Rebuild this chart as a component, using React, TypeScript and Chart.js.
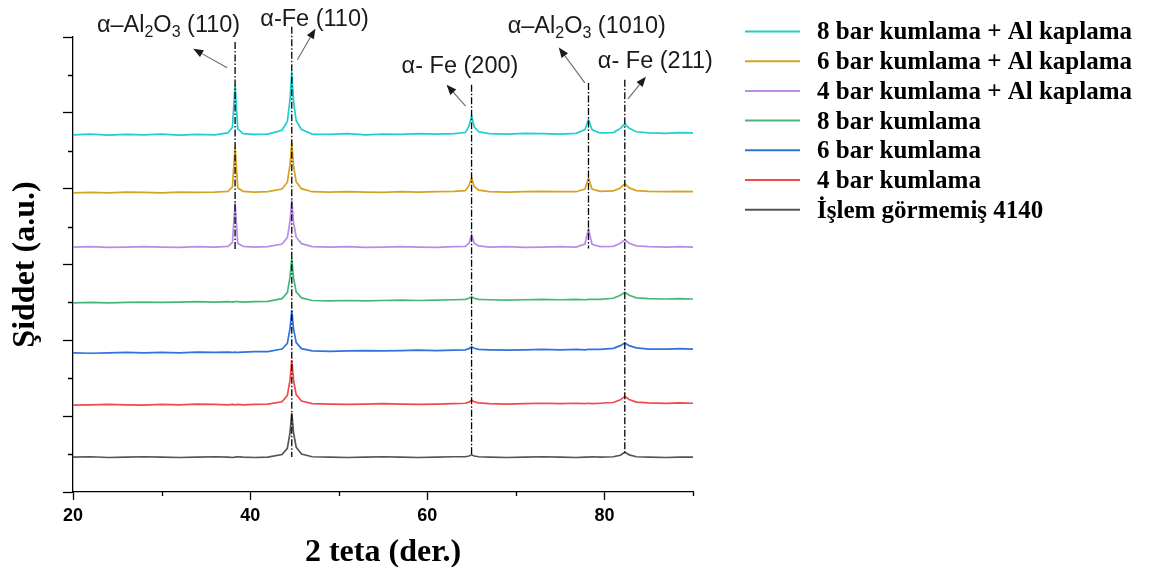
import React, { useEffect, useRef } from "react";
import { Chart, registerables } from "chart.js";

Chart.register(...registerables);

// ---------- DATA ----------
const twoTheta = [
  20, 22, 24, 26, 28, 30, 32, 34, 36, 37.5, 38.0, 38.3, 38.6, 39.2, 40.5, 42,
  43.6, 44.2, 44.5, 44.7, 44.9, 45.2, 45.8, 47, 49, 51, 53, 55, 57, 59, 61, 63,
  64.3, 64.7, 65.0, 65.3, 65.8, 67, 69, 71, 73, 75, 76.8, 77.8, 78.2, 78.6, 79.5,
  81.0, 81.8, 82.3, 82.8, 83.6, 85, 87, 88.5, 90,
];

const untreated4140 = [
  0.92, 0.93, 0.91, 0.92, 0.93, 0.92, 0.91, 0.92, 0.93, 0.92, 0.91, 0.92, 0.93, 0.92, 0.91, 0.92,
  0.99, 1.15, 1.56, 2.08, 1.56, 1.18, 1.00, 0.93, 0.92, 0.91, 0.92, 0.93, 0.92, 0.91, 0.92, 0.93,
  0.93, 0.95, 0.98, 0.95, 0.93, 0.92, 0.91, 0.92, 0.93, 0.92, 0.91, 0.92, 0.92, 0.93, 0.92,
  0.93, 0.97, 1.05, 0.98, 0.93, 0.92, 0.91, 0.92, 0.92,
];

const blast4 = [
  2.29, 2.30, 2.31, 2.30, 2.29, 2.31, 2.30, 2.32, 2.31, 2.30, 2.31, 2.30, 2.31, 2.30, 2.31, 2.32,
  2.38, 2.55, 2.95, 3.48, 2.94, 2.57, 2.40, 2.33, 2.32, 2.31, 2.32, 2.33, 2.32, 2.31, 2.32, 2.33,
  2.34, 2.37, 2.42, 2.38, 2.35, 2.33, 2.32, 2.33, 2.34, 2.33, 2.34, 2.33, 2.34, 2.33, 2.34,
  2.36, 2.43, 2.52, 2.44, 2.37, 2.35, 2.34, 2.35, 2.34,
];

const blast6 = [
  3.67, 3.66, 3.67, 3.68, 3.67, 3.68, 3.67, 3.69, 3.68, 3.69, 3.68, 3.69, 3.68, 3.69, 3.70, 3.70,
  3.77, 3.92, 4.31, 4.80, 4.30, 3.94, 3.78, 3.72, 3.71, 3.72, 3.73, 3.72, 3.73, 3.74, 3.73, 3.74,
  3.75, 3.78, 3.83, 3.79, 3.76, 3.75, 3.74, 3.75, 3.76, 3.75, 3.76, 3.75, 3.76, 3.76, 3.76,
  3.79, 3.86, 3.93, 3.86, 3.80, 3.77, 3.77, 3.78, 3.77,
];

const blast8 = [
  4.99, 5.00, 4.99, 5.00, 5.01, 5.00, 5.01, 5.02, 5.01, 5.02, 5.01, 5.02, 5.02, 5.01, 5.02, 5.03,
  5.10, 5.26, 5.66, 6.17, 5.64, 5.28, 5.12, 5.05, 5.04, 5.05, 5.04, 5.05, 5.06, 5.05, 5.06, 5.07,
  5.08, 5.11, 5.15, 5.11, 5.08, 5.07, 5.06, 5.07, 5.08, 5.07, 5.08, 5.07, 5.08, 5.08, 5.08,
  5.11, 5.19, 5.27, 5.19, 5.12, 5.10, 5.09, 5.10, 5.09,
];

const blast4Al = [
  6.46, 6.47, 6.45, 6.46, 6.47, 6.46, 6.45, 6.47, 6.46, 6.48, 6.58, 7.63, 6.56, 6.48, 6.46, 6.47,
  6.54, 6.71, 7.14, 7.70, 7.11, 6.72, 6.55, 6.47, 6.46, 6.47, 6.45, 6.46, 6.47, 6.46, 6.45, 6.47,
  6.48, 6.56, 6.78, 6.56, 6.49, 6.46, 6.47, 6.45, 6.46, 6.47, 6.46, 6.54, 6.94, 6.53, 6.47,
  6.48, 6.56, 6.65, 6.56, 6.49, 6.47, 6.46, 6.47, 6.46,
];

const blast6Al = [
  7.89, 7.90, 7.89, 7.91, 7.90, 7.89, 7.91, 7.90, 7.91, 7.93, 8.05, 9.10, 8.02, 7.93, 7.91, 7.92,
  7.99, 8.17, 8.62, 9.21, 8.60, 8.18, 8.00, 7.92, 7.91, 7.92, 7.91, 7.90, 7.92, 7.91, 7.92, 7.93,
  7.95, 8.08, 8.29, 8.06, 7.96, 7.92, 7.91, 7.92, 7.93, 7.92, 7.92, 7.99, 8.28, 7.99, 7.93,
  7.94, 8.02, 8.13, 8.02, 7.95, 7.93, 7.92, 7.93, 7.92,
];

const blast8Al = [
  9.42, 9.44, 9.41, 9.43, 9.42, 9.44, 9.41, 9.43, 9.42, 9.47, 9.62, 10.74, 9.58, 9.45, 9.43, 9.44,
  9.54, 9.77, 10.34, 11.08, 10.30, 9.79, 9.56, 9.44, 9.43, 9.45, 9.42, 9.44, 9.43, 9.45, 9.44, 9.45,
  9.48, 9.65, 9.92, 9.63, 9.50, 9.45, 9.44, 9.46, 9.45, 9.44, 9.46, 9.56, 9.82, 9.55, 9.47,
  9.48, 9.59, 9.71, 9.59, 9.50, 9.47, 9.46, 9.48, 9.47,
];

const seriesLabels = [
  "8 bar kumlama + Al kaplama",
  "6 bar kumlama + Al kaplama",
  "4 bar kumlama + Al kaplama",
  "8 bar kumlama",
  "6 bar kumlama",
  "4 bar kumlama",
  "İşlem görmemiş 4140",
];
const seriesValues = [blast8Al, blast6Al, blast4Al, blast8, blast6, blast4, untreated4140];
const seriesColors = ["#1fcfcf", "#d6a320", "#b98ce8", "#45b878", "#2f72e0", "#f04a4a", "#555555"];

const xTickStep = 20;
const xMinorTicks = [30, 50, 70, 90];
const yMinorTicks = [1, 3, 5, 7, 9, 11];

// reference (peak) lines: position, top, bottom (a.u.)
const peakLinePos = [38.3, 44.7, 65.0, 78.2, 82.3];
const peakLineTop = [11.87, 12.27, 10.74, 10.79, 10.87];
const peakLineBottom = [6.39, 0.92, 0.98, 6.42, 0.98];

// annotation labels: [text, subscript]
const peakLabels: [string, boolean][][] = [
  [["α–Al", false], ["2", true], ["O", false], ["3", true], [" (110)", false]],
  [["α-Fe (110)", false]],
  [["α- Fe (200)", false]],
  [["α–Al", false], ["2", true], ["O", false], ["3", true], [" (1010)", false]],
  [["α- Fe (211)", false]],
];
const labelX = [22.7, 41.15, 57.1, 69.08, 79.26];
const labelY = [12.14, 12.3, 11.06, 12.11, 11.19];
const arrowTailX = [37.41, 45.33, 64.33, 77.79, 82.65];
const arrowTailY = [11.19, 11.4, 10.18, 10.79, 10.37];
const arrowHeadX = [33.57, 47.37, 62.18, 74.85, 84.68];
const arrowHeadY = [11.69, 12.22, 10.74, 11.72, 10.95];

// ---------- PLUGINS ----------
const SANS = '"Liberation Sans", Arial, Helvetica, sans-serif';
const SERIF = '"Liberation Serif", "Times New Roman", Times, serif';

const minorTickPlugin = {
  id: "minorTicks",
  afterDraw(chart: any) {
    const { ctx, scales } = chart;
    const x = scales.x;
    const y = scales.y;
    ctx.save();
    ctx.strokeStyle = "#000";
    ctx.lineWidth = 1.3;
    ctx.beginPath();
    for (const v of xMinorTicks) {
      const px = Math.round(x.getPixelForValue(v)) + 0.5;
      ctx.moveTo(px, y.bottom);
      ctx.lineTo(px, y.bottom + 4);
    }
    for (const v of yMinorTicks) {
      const py = Math.round(y.getPixelForValue(v)) + 0.5;
      ctx.moveTo(x.left, py);
      ctx.lineTo(x.left - 5, py);
    }
    ctx.stroke();
    ctx.restore();
  },
};

const annotationPlugin = {
  id: "peakAnnotations",
  afterDatasetsDraw(chart: any) {
    const { ctx, scales } = chart;
    const x = scales.x;
    const y = scales.y;
    ctx.save();
    // dash-dot peak lines
    ctx.strokeStyle = "#000";
    ctx.lineWidth = 1.3;
    ctx.setLineDash([7, 2, 1.5, 2]);
    peakLinePos.forEach((p, i) => {
      const px = x.getPixelForValue(p);
      ctx.beginPath();
      ctx.moveTo(px, y.getPixelForValue(peakLineTop[i]));
      ctx.lineTo(px, y.getPixelForValue(peakLineBottom[i]));
      ctx.stroke();
    });
    ctx.setLineDash([]);
    // arrows
    arrowTailX.forEach((tx, i) => {
      const x1 = x.getPixelForValue(tx);
      const y1 = y.getPixelForValue(arrowTailY[i]);
      const x2 = x.getPixelForValue(arrowHeadX[i]);
      const y2 = y.getPixelForValue(arrowHeadY[i]);
      const ang = Math.atan2(y2 - y1, x2 - x1);
      const hl = 10;
      const hw = 4;
      const bx = x2 - hl * Math.cos(ang);
      const by = y2 - hl * Math.sin(ang);
      ctx.strokeStyle = "#6a6a6a";
      ctx.lineWidth = 1.1;
      ctx.beginPath();
      ctx.moveTo(x1, y1);
      ctx.lineTo(bx, by);
      ctx.stroke();
      ctx.fillStyle = "#1a1a1a";
      ctx.beginPath();
      ctx.moveTo(x2, y2);
      ctx.lineTo(bx + hw * Math.sin(ang), by - hw * Math.cos(ang));
      ctx.lineTo(bx - hw * Math.sin(ang), by + hw * Math.cos(ang));
      ctx.closePath();
      ctx.fill();
    });
    // labels
    const size = 23.5;
    ctx.fillStyle = "#1a1a1a";
    ctx.textBaseline = "alphabetic";
    ctx.textAlign = "left";
    peakLabels.forEach((parts, i) => {
      let cx = x.getPixelForValue(labelX[i]);
      const by = y.getPixelForValue(labelY[i]);
      for (const [t, sub] of parts) {
        const s = sub ? Math.round(size * 0.68) : size;
        ctx.font = `${s}px ${SANS}`;
        ctx.fillText(t, cx, sub ? by + 5 : by);
        cx += ctx.measureText(t).width;
      }
    });
    ctx.restore();
  },
};

const legendPlugin = {
  id: "sideLegend",
  afterDraw(chart: any) {
    const { ctx } = chart;
    const ds = chart.data.datasets;
    ctx.save();
    ctx.font = `bold 25px ${SERIF}`;
    ctx.textBaseline = "middle";
    ctx.textAlign = "left";
    ds.forEach((d: any, i: number) => {
      const yy = 31.5 + i * 29.7;
      ctx.strokeStyle = d.borderColor;
      ctx.lineWidth = 2;
      ctx.beginPath();
      ctx.moveTo(737, yy);
      ctx.lineTo(792, yy);
      ctx.stroke();
      ctx.fillStyle = "#000";
      ctx.fillText(d.label, 809, yy + 1.5);
    });
    ctx.restore();
  },
};

// ---------- COMPONENT ----------
export default function App() {
  const canvasRef = useRef<HTMLCanvasElement | null>(null);

  useEffect(() => {
    if (!canvasRef.current) return;
    const datasets = seriesLabels.map((label, s) => ({
      label,
      data: twoTheta.map((t, i) => ({ x: t, y: seriesValues[s][i] })),
      borderColor: seriesColors[s],
      backgroundColor: seriesColors[s],
      borderWidth: 1.7,
      pointRadius: 0,
      tension: 0,
      fill: false,
    }));

    const chart = new Chart(canvasRef.current, {
      type: "line",
      data: { datasets },
      options: {
        animation: false,
        responsive: false,
        layout: { padding: { left: 0, top: 37, right: 448, bottom: 0 } },
        plugins: {
          legend: { display: false },
          tooltip: { enabled: false },
        },
        scales: {
          x: {
            type: "linear",
            min: 20,
            max: 90,
            afterFit: (s: any) => {
              s.height = 75;
            },
            border: { display: true, color: "#000", width: 1.3 },
            grid: {
              drawOnChartArea: false,
              drawTicks: true,
              tickLength: 8,
              tickColor: "#000",
              tickWidth: 1.3,
            },
            ticks: {
              stepSize: xTickStep,
              includeBounds: false,
              autoSkip: false,
              maxRotation: 0,
              padding: 5,
              color: "#000",
              font: { family: SANS, size: 18, weight: "bold" },
            },
            title: {
              display: true,
              text: "2 teta (der.)",
              color: "#000",
              font: { family: SERIF, size: 32, weight: "bold", lineHeight: 1 },
              padding: { top: 0, bottom: -2 },
            },
          },
          y: {
            type: "linear",
            min: 0,
            max: 12,
            afterFit: (s: any) => {
              s.width = 65;
            },
            border: { display: true, color: "#000", width: 1.3 },
            grid: {
              drawOnChartArea: false,
              drawTicks: true,
              tickLength: 10,
              tickColor: "#000",
              tickWidth: 1.3,
            },
            ticks: { stepSize: 2, display: false },
            title: {
              display: true,
              text: "Şiddet (a.u.)",
              color: "#000",
              font: { family: SERIF, size: 32, weight: "bold", lineHeight: 1 },
              padding: { top: 2, bottom: 0 },
            },
          },
        },
      } as any,
      plugins: [minorTickPlugin, annotationPlugin, legendPlugin],
    });
    return () => chart.destroy();
  }, []);

  return (
    <div style={{ width: 1133, height: 567, marginTop: -8, position: "relative" }}>
      <canvas ref={canvasRef} width={1133} height={567} style={{ display: "block" }} />
    </div>
  );
}
